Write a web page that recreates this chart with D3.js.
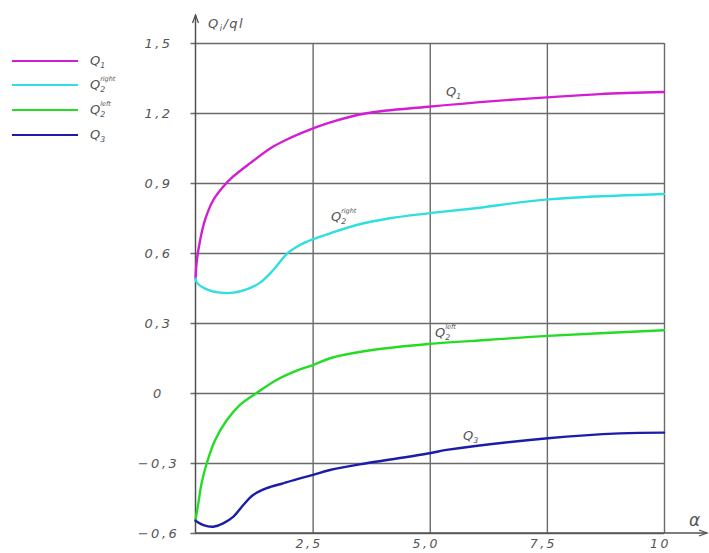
<!DOCTYPE html>
<html>
<head>
<meta charset="utf-8">
<script src="https://cdn.jsdelivr.net/npm/d3@7"></script>
<style>
  html, body { margin: 0; padding: 0; background: #fff; }
  svg { display: block; }
  .lbl { font-family: "DejaVu Sans", sans-serif; font-style: italic; fill: #555; }
</style>
</head>
<body>
<svg id="chart" width="709" height="553"></svg>
<script>
// Shear forces Q / ql as functions of the stiffness ratio alpha
const q1Alpha = [0, 0.03, 0.1, 0.2, 0.38, 0.59, 0.8, 1.16, 1.66, 2.01, 2.51, 2.86, 3.65, 4.97, 6.5, 7.5, 8.63, 10];
const q1Values = [0.49, 0.57, 0.656, 0.74, 0.827, 0.884, 0.927, 0.984, 1.056, 1.092, 1.134, 1.159, 1.199, 1.227, 1.253, 1.267, 1.281, 1.29];

const q2RightAlpha = [0, 0.03, 0.24, 0.52, 0.81, 1.09, 1.38, 1.66, 1.95, 2.23, 2.51, 2.87, 3.44, 4.15, 4.97, 5.93, 7.53, 10];
const q2RightValues = [0.49, 0.473, 0.444, 0.43, 0.43, 0.444, 0.473, 0.527, 0.596, 0.634, 0.659, 0.684, 0.72, 0.749, 0.77, 0.791, 0.83, 0.853];

const q2LeftAlpha = [0, 0.06, 0.13, 0.24, 0.42, 0.67, 0.95, 1.31, 1.73, 2.16, 2.51, 2.87, 3.7, 4.97, 6.29, 7.52, 10];
const q2LeftValues = [-0.545, -0.473, -0.387, -0.301, -0.201, -0.116, -0.051, 0.001, 0.056, 0.096, 0.12, 0.149, 0.182, 0.21, 0.228, 0.245, 0.269];

const q3Alpha = [0, 0.17, 0.38, 0.59, 0.81, 1.02, 1.23, 1.52, 1.87, 2.23, 2.51, 2.87, 3.65, 5.0, 5.36, 7.52, 9.06, 10];
const q3Values = [-0.547, -0.566, -0.573, -0.559, -0.53, -0.48, -0.437, -0.408, -0.387, -0.366, -0.351, -0.33, -0.301, -0.258, -0.244, -0.194, -0.173, -0.17];

const xTicks = [2.5, 5, 7.5, 10];
const xTickLabels = ["2,5", "5,0", "7,5", "10"];
const yTicks = [-0.6, -0.3, 0, 0.3, 0.6, 0.9, 1.2, 1.5];
const yTickLabels = ["\u22120,6", "\u22120,3", "0", "0,3", "0,6", "0,9", "1,2", "1,5"];

const seriesNames = ["Q1", "Q2right", "Q2left", "Q3"];
const seriesColors = ["#d21ed2", "#30dede", "#25dc25", "#1c1ca8"];

const svg = d3.select("#chart");
const x = d3.scaleLinear().domain([0, 10]).range([195.5, 664]);
const y = d3.scaleLinear().domain([-0.6, 1.5]).range([533, 43]);

const gridColor = "#6a6a6a";

// horizontal grid with tick labels
const yAxis = d3.axisLeft(y).tickValues(yTicks)
  .tickSize(-(x(10) - x(0)))
  .tickFormat((d, i) => yTickLabels[i]);
const gy = svg.append("g").attr("transform", `translate(${x(0)},0)`).call(yAxis);
gy.select(".domain").remove();
gy.selectAll(".tick line").attr("x1", -5).attr("stroke", gridColor).attr("stroke-width", 1.4);
gy.selectAll(".tick text")
  .attr("class", "lbl").attr("x", -37).attr("dy", "0.35em")
  .attr("text-anchor", "middle").style("font-size", "13px").style("letter-spacing", "2.5px")
  .attr("font-family", null);

// vertical grid with tick labels
const xAxis = d3.axisBottom(x).tickValues(xTicks)
  .tickSize(-(y(-0.6) - y(1.5)))
  .tickFormat((d, i) => xTickLabels[i]);
const gx = svg.append("g").attr("transform", `translate(0,${y(-0.6)})`).call(xAxis);
gx.select(".domain").remove();
gx.selectAll(".tick line").attr("stroke", gridColor).attr("stroke-width", 1.4);
gx.selectAll(".tick text")
  .attr("class", "lbl").attr("y", 11).attr("dy", "0.35em").attr("x", -4)
  .attr("text-anchor", "middle").style("font-size", "12.5px").style("letter-spacing", "2.5px")
  .attr("font-family", null);

// main axes with arrows
const axisColor = "#505050";
svg.append("line").attr("x1", x(0)).attr("x2", x(0)).attr("y1", y(-0.6)).attr("y2", 15)
  .attr("stroke", axisColor).attr("stroke-width", 1.5);
svg.append("path").attr("d", `M${x(0) - 3},23 L${x(0)},15 L${x(0) + 3},23`)
  .attr("fill", "none").attr("stroke", axisColor).attr("stroke-width", 1.3);
svg.append("line").attr("x1", x(0)).attr("x2", 707).attr("y1", y(-0.6)).attr("y2", y(-0.6))
  .attr("stroke", axisColor).attr("stroke-width", 1.5);
svg.append("path").attr("d", `M699,${y(-0.6) - 3} L707,${y(-0.6)} L699,${y(-0.6) + 3}`)
  .attr("fill", "none").attr("stroke", axisColor).attr("stroke-width", 1.3);

// axis titles
const yTitle = svg.append("text").attr("class", "lbl").attr("x", 208).attr("y", 28)
  .style("font-size", "13px").style("letter-spacing", "1.5px");
yTitle.append("tspan").text("Q");
yTitle.append("tspan").attr("dy", 3).style("font-size", "8px").text("i");
yTitle.append("tspan").attr("dy", -3).text("/ql");
svg.append("text").attr("class", "lbl").attr("x", 689).attr("y", 526)
  .style("font-size", "17px").text("\u03b1");

// curves
const line = d3.line().x(d => x(d[0])).y(d => y(d[1])).curve(d3.curveCatmullRom.alpha(0.5));
const seriesData = [
  d3.zip(q1Alpha, q1Values),
  d3.zip(q2RightAlpha, q2RightValues),
  d3.zip(q2LeftAlpha, q2LeftValues),
  d3.zip(q3Alpha, q3Values)
];
seriesData.forEach((pts, i) => {
  svg.append("path").datum(pts).attr("d", line)
    .attr("fill", "none").attr("stroke", seriesColors[i])
    .attr("stroke-width", 2.4).attr("stroke-linecap", "round").attr("stroke-linejoin", "round");
});

// Q label: main letter with subscript and optional superscript
function qLabel(g, px, py, sub, sup, size) {
  const t = g.append("text").attr("class", "lbl").attr("x", px).attr("y", py)
    .style("font-size", size + "px");
  t.append("tspan").text("Q");
  t.append("tspan").attr("dy", 3).style("font-size", (size * 0.6) + "px").text(sub);
  if (sup) {
    t.append("tspan").attr("x", px + size * 0.78).attr("dy", -size * 0.85)
      .style("font-size", (size * 0.5) + "px").text(sup);
  }
}

// legend
const legendSubs = ["1", "2", "2", "3"];
const legendSups = [null, "right", "left", null];
const legendY = [61, 85, 110, 135];
const legend = svg.append("g");
seriesNames.forEach((name, i) => {
  legend.append("line").attr("x1", 12).attr("x2", 78)
    .attr("y1", legendY[i]).attr("y2", legendY[i])
    .attr("stroke", seriesColors[i]).attr("stroke-width", 2);
  qLabel(legend, 90, legendY[i] + 4, legendSubs[i], legendSups[i], 13);
});

// curve annotations
const notes = svg.append("g");
qLabel(notes, 446, 96, "1", null, 13);
qLabel(notes, 331, 221, "2", "right", 13);
qLabel(notes, 435, 337, "2", "left", 13);
qLabel(notes, 463, 440, "3", null, 13);
</script>
</body>
</html>
